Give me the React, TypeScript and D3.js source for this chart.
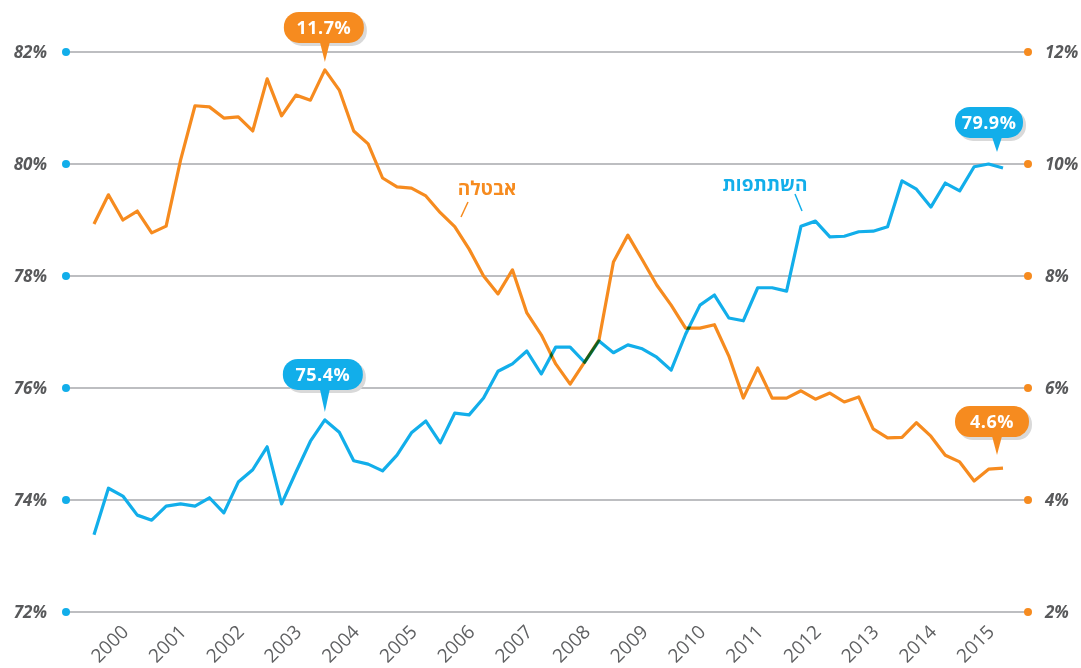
import React from "react";
import * as d3 from "d3";

// Quarterly data, 2000Q1 – 2015Q4
const years = d3.range(2000, 2016);
const participation = [
  73.38, 74.21, 74.07, 73.73, 73.64, 73.89, 73.93, 73.89,
  74.04, 73.77, 74.32, 74.54, 74.95, 73.93, 74.5, 75.05,
  75.43, 75.21, 74.7, 74.64, 74.52, 74.8, 75.2, 75.41,
  75.02, 75.55, 75.52, 75.82, 76.3, 76.43, 76.66, 76.25,
  76.73, 76.73, 76.46, 76.84, 76.63, 76.77, 76.7, 76.55,
  76.32, 76.96, 77.48, 77.66, 77.25, 77.2, 77.79, 77.79,
  77.73, 78.89, 78.98, 78.7, 78.71, 78.79, 78.8, 78.88,
  79.7, 79.55, 79.23, 79.66, 79.52, 79.95, 80.0, 79.93,
];
const unemployment = [
  8.93, 9.45, 9.0, 9.16, 8.77, 8.89, 10.07, 11.04,
  11.02, 10.82, 10.84, 10.59, 11.52, 10.86, 11.23, 11.14,
  11.68, 11.32, 10.59, 10.36, 9.75, 9.59, 9.57, 9.43,
  9.13, 8.88, 8.48, 8.0, 7.68, 8.11, 7.34, 6.95,
  6.43, 6.07, 6.46, 6.86, 8.25, 8.73, 8.29, 7.84,
  7.48, 7.07, 7.07, 7.13, 6.57, 5.82, 6.36, 5.82,
  5.82, 5.95, 5.8, 5.91, 5.75, 5.84, 5.27, 5.11,
  5.12, 5.38, 5.14, 4.8, 4.68, 4.34, 4.55, 4.57,
];
const leftTicks = [72, 74, 76, 78, 80, 82];
const rightTicks = [2, 4, 6, 8, 10, 12];
const unemploymentLabel = "אבטלה";
const participationLabel = "השתתפות";

const BLUE = "#12aeea";
const ORANGE = "#f68b1f";
const GRAY = "#58595b";
const FONT = "'Open Sans', 'Noto Sans', sans-serif";

const W = 1081;
const H = 668;
const X0 = 66;
const X1 = 1028;

const x = d3.scaleLinear().domain([0, participation.length - 1]).range([94, 1003]);
const yL = d3.scaleLinear().domain([72, 82]).range([612, 52]);
const yR = d3.scaleLinear().domain([2, 12]).range([612, 52]);

const lineL = d3.line<number>().x((_, i) => x(i)).y((d) => yL(d)).curve(d3.curveLinear);
const lineR = d3.line<number>().x((_, i) => x(i)).y((d) => yR(d)).curve(d3.curveLinear);

type Callout = {
  series: "L" | "R";
  index: number;
  gap: number; // tip distance above point
  ptr: number; // pointer length
  tipDx: number;
  rectDx: number;
  w: number;
};
const callouts: Callout[] = [
  { series: "R", index: 16, gap: 8, ptr: 19, tipDx: 0, rectDx: -1, w: 80 },
  { series: "L", index: 16, gap: 8, ptr: 22, tipDx: 0, rectDx: -2, w: 80 },
  { series: "L", index: 63, gap: 16, ptr: 14, tipDx: -6, rectDx: -8, w: 68 },
  { series: "R", index: 63, gap: 13, ptr: 18, tipDx: -6, rectDx: -5, w: 74 },
];

function CalloutShape({ c }: { c: Callout }) {
  const vals = c.series === "L" ? participation : unemployment;
  const v = vals[c.index];
  const py = c.series === "L" ? yL(v) : yR(v);
  const tipX = x(c.index) + c.tipDx;
  const tipY = py - c.gap;
  const rh = 31;
  const rb = tipY - c.ptr;
  const cx = tipX + c.rectDx;
  const color = c.series === "L" ? BLUE : ORANGE;
  const rx = cx - c.w / 2;
  const ry = rb - rh;
  return (
    <g>
      <rect x={rx + 3} y={ry + 3} width={c.w} height={rh} rx={15} fill="#d9d9d9" />
      <rect x={rx} y={ry} width={c.w} height={rh} rx={15} fill={color} />
      <path d={`M${tipX - 5},${rb - 1} L${tipX + 5},${rb - 1} L${tipX},${tipY} Z`} fill={color} />
      <text
        x={cx}
        y={ry + rh / 2 + 6.5}
        textAnchor="middle"
        fill="#fff"
        fontFamily={FONT}
        fontWeight={700}
        fontSize={18}
        letterSpacing={0.5}
      >
        {v.toFixed(1) + "%"}
      </text>
    </g>
  );
}

export default function App() {
  return (
    <svg
      width={W}
      height={H}
      style={{ position: "absolute", left: 0, top: 0, display: "block", background: "#fff" }}
    >
      {/* grid lines */}
      {leftTicks.map((t) => (
        <line key={t} x1={X0} x2={X1} y1={yL(t)} y2={yL(t)} stroke="#a7a9ac" strokeWidth={1.5} />
      ))}
      {leftTicks.map((t) => (
        <g key={"l" + t}>
          <circle cx={X0} cy={yL(t)} r={4} fill={BLUE} />
          <text
            x={47}
            y={yL(t) + 6}
            textAnchor="end"
            fill={GRAY}
            fontFamily={FONT}
            fontWeight={700}
            fontStyle="italic"
            fontSize={17}
          >
            {t + "%"}
          </text>
        </g>
      ))}
      {rightTicks.map((t) => (
        <g key={"r" + t}>
          <circle cx={X1} cy={yR(t)} r={4} fill={ORANGE} />
          <text
            x={1045}
            y={yR(t) + 6}
            textAnchor="start"
            fill={GRAY}
            fontFamily={FONT}
            fontWeight={700}
            fontStyle="italic"
            fontSize={17}
          >
            {t + "%"}
          </text>
        </g>
      ))}
      {/* x labels */}
      {years.map((yr, k) => {
        const px = x(k * 4 + 1.5) + 14;
        return (
          <text
            key={yr}
            transform={`translate(${px},${633}) rotate(-45)`}
            textAnchor="end"
            fill="#5f6062"
            fontFamily={FONT}
            fontSize={19}
          >
            {yr}
          </text>
        );
      })}
      {/* lines */}
      <g style={{ isolation: "isolate" }}>
        <path
          d={lineR(unemployment) || ""}
          fill="none"
          stroke={ORANGE}
          strokeWidth={3.2}
          strokeLinejoin="round"
          style={{ mixBlendMode: "multiply" }}
        />
        <path
          d={lineL(participation) || ""}
          fill="none"
          stroke={BLUE}
          strokeWidth={3.2}
          strokeLinejoin="round"
          style={{ mixBlendMode: "multiply" }}
        />
      </g>
      {/* series labels */}
      <text x={487} y={195} textAnchor="middle" fill={ORANGE} fontFamily={FONT} fontWeight={700} fontSize={19}>
        {unemploymentLabel}
      </text>
      <line x1={468} y1={202} x2={461} y2={217} stroke={ORANGE} strokeWidth={1.5} />
      <text x={765} y={191} textAnchor="middle" fill={BLUE} fontFamily={FONT} fontWeight={700} fontSize={19}>
        {participationLabel}
      </text>
      <line x1={795} y1={194} x2={802} y2={211} stroke={BLUE} strokeWidth={1.5} />
      {callouts.map((c, i) => (
        <CalloutShape key={i} c={c} />
      ))}
    </svg>
  );
}
